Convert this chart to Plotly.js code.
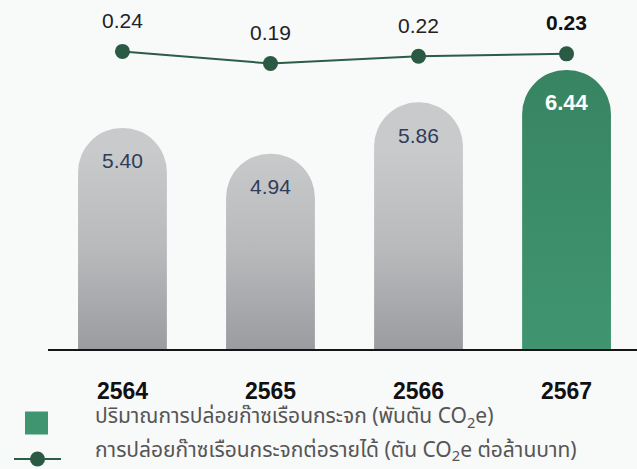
<!DOCTYPE html>
<html><head><meta charset="utf-8">
<script src="https://cdn.plot.ly/plotly-3.0.1.min.js"></script>
<style>html,body{margin:0;padding:0;background:#f8f9f9;}</style>
</head><body>
<div id="chart" style="width:637px;height:469px"></div>
<script>
const years = ['2564', '2565', '2566', '2567'];
const emissions = [5.40, 4.94, 5.86, 6.44];
const emissionLabels = ['5.40', '4.94', '5.86', '6.44'];
const intensity = [0.24, 0.19, 0.22, 0.23];
const intensityLabels = ['0.24', '0.19', '0.22', '0.23'];
const barName = 'ปริมาณการปล่อยก๊าซเรือนกระจก (พันตัน CO<sub>2</sub>e)';
const lineName = 'การปล่อยก๊าซเรือนกระจกต่อรายได้ (ตัน CO<sub>2</sub>e ต่อล้านบาท)';

const last = years.length - 1;
const barColors = years.map((_, i) => i === last ? '#3d8f6b' : '#b8b9bb');
const numFont = 'Liberation Sans, Arial, sans-serif';

const bars = {
  type: 'bar', x: years, y: emissions, name: barName, legendgroup: 'a',
  width: 0.6, yaxis: 'y',
  marker: {color: barColors, cornerradius: '50%', line: {width: 0}},
  hoverinfo: 'none'
};
const line = {
  type: 'scatter', mode: 'lines+markers', x: years, y: intensity, name: lineName,
  legendgroup: 'b', yaxis: 'y2',
  line: {color: '#2c5d46', width: 2},
  marker: {size: 15, color: '#2a5a43'},
  hoverinfo: 'none'
};

const annotations = [];
years.forEach((yr, i) => {
  annotations.push({
    x: i, y: intensity[i], xref: 'x', yref: 'y2', showarrow: false,
    text: i === last ? '<b>' + intensityLabels[i] + '</b>' : intensityLabels[i],
    yshift: 31, yanchor: 'middle',
    font: {family: numFont, size: 21, color: i === last ? '#111' : '#222'}
  });
  annotations.push({
    x: i, y: emissions[i], xref: 'x', yref: 'y', showarrow: false,
    text: i === last ? '<b>' + emissionLabels[i] + '</b>' : emissionLabels[i],
    yshift: -33, yanchor: 'middle',
    font: {family: numFont, size: i === last ? 22 : 21, color: i === last ? '#ffffff' : '#2e3d5a'}
  });
});

const layout = {
  width: 637, height: 469,
  margin: {l: 48, r: 0, t: 0, b: 120, autoexpand: false},
  paper_bgcolor: '#f8f9f9', plot_bgcolor: '#f8f9f9',
  showlegend: true,
  legend: {
    xref: 'container', yref: 'container',
    x: 5 / 637, y: 1 - 395 / 469, xanchor: 'left', yanchor: 'top',
    bgcolor: 'rgba(0,0,0,0)', tracegroupgap: 3, traceorder: 'grouped',
    itemwidth: 80,
    font: {family: 'Noto Sans Thai, Noto Sans, sans-serif', size: 21, color: '#555'}
  },
  xaxis: {
    type: 'category', range: [-0.503, 3.476], showgrid: false, zeroline: false,
    showline: true, linecolor: '#151515', linewidth: 2,
    ticks: '', ticklabelstandoff: 20,
    tickfont: {family: numFont, size: 23, weight: 'bold', color: '#111'}
  },
  yaxis: {range: [1.437, 7.695], visible: false, fixedrange: true},
  yaxis2: {range: [-0.985, 0.4516], overlaying: 'y', visible: false, fixedrange: true},
  annotations: annotations,
  bargap: 0.4
};

Plotly.newPlot('chart', [bars, line], layout, {displayModeBar: false, staticPlot: true}).then(gd => {
  const ns = 'http://www.w3.org/2000/svg';
  const svg = gd.querySelector('svg.main-svg');
  const defs = document.createElementNS(ns, 'defs');
  function grad(id, stops) {
    const g = document.createElementNS(ns, 'linearGradient');
    g.setAttribute('id', id);
    g.setAttribute('gradientUnits', 'userSpaceOnUse');
    g.setAttribute('x1', 0); g.setAttribute('x2', 0);
    g.setAttribute('y1', 0); g.setAttribute('y2', 349);
    stops.forEach(([o, c]) => {
      const s = document.createElementNS(ns, 'stop');
      s.setAttribute('offset', o); s.setAttribute('stop-color', c);
      g.appendChild(s);
    });
    defs.appendChild(g);
  }
  grad('gGray', [[0.43, '#c9cacc'], [0.72, '#b8b9bb'], [1, '#9b9ca0']]);
  grad('gGreen', [[0.2, '#388462'], [1, '#409570']]);
  svg.insertBefore(defs, svg.firstChild);
  gd.querySelectorAll('.barlayer .point path').forEach((p, i) => {
    p.style.fill = i === last ? 'url(#gGreen)' : 'url(#gGray)';
  });
  // legend symbols: larger square, shorter line, positioned like the reference
  const items = gd.querySelectorAll('.legend .traces');
  const bp = items[0].querySelector('.legendpoints path');
  if (bp) {
    bp.setAttribute('d', 'M11.5,11.5H-11.5V-11.5H11.5Z');
    bp.style.fill = '#3f9570';
    bp.style.stroke = 'none';
  }
  if (items[1]) {
    items[1].querySelectorAll('.legendlines path').forEach(p => p.setAttribute('d', 'M5,0h47'));
    items[1].querySelectorAll('.legendpoints path').forEach(p => p.setAttribute('transform', 'translate(28.5,0)'));
  }
  const targets = [[36.5, 423], [37.5, 459]];
  items.forEach((it, k) => {
    const ly = it.querySelector('.layers');
    if (!ly || !targets[k]) return;
    const r = ly.getBoundingClientRect();
    const dx = targets[k][0] - (r.x + r.width / 2);
    const dy = targets[k][1] - (r.y + r.height / 2);
    ly.setAttribute('transform', 'translate(' + dx + ',' + dy + ')');
  });
});
</script>
</body></html>
